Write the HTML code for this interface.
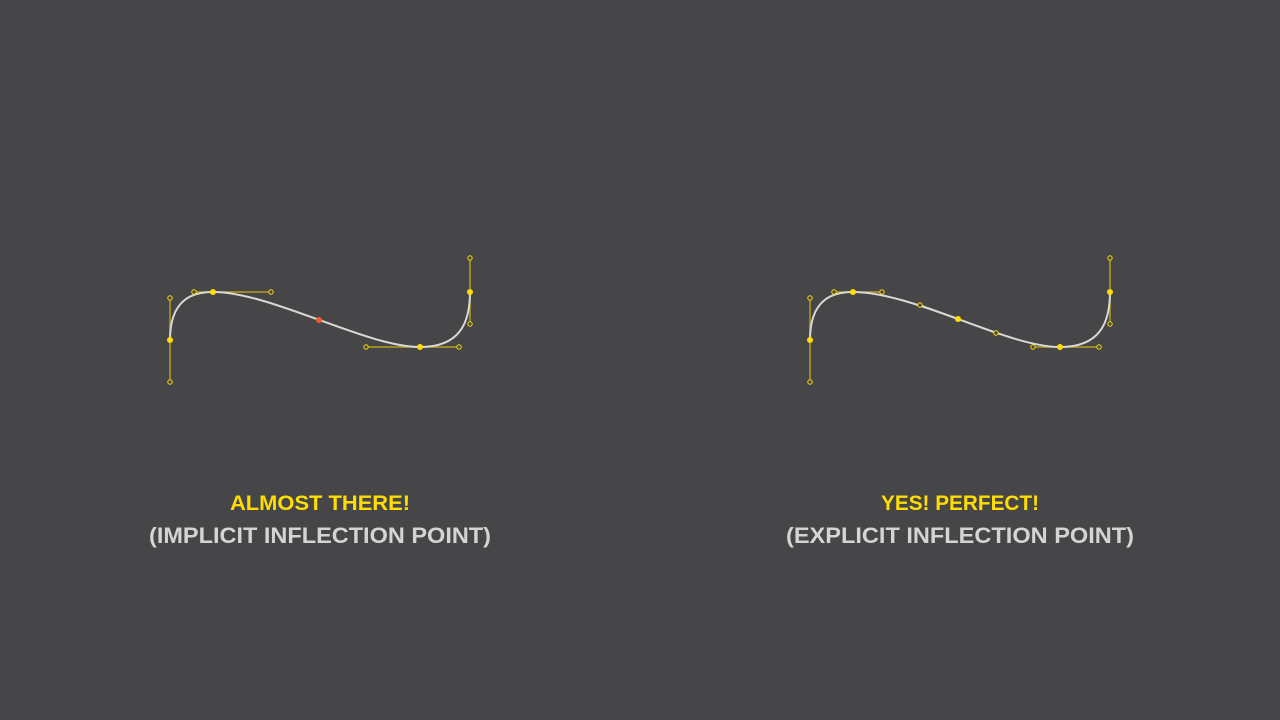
<!DOCTYPE html>
<html><head><meta charset="utf-8"><style>
html,body{margin:0;background:#464648;}
svg{display:block}
text{font-family:"Liberation Sans",sans-serif;font-weight:bold;}
</style></head><body>
<svg width="1280" height="720" viewBox="0 0 1280 720">
<rect width="1280" height="720" fill="#464648"/>
<g id="left">
<g stroke="#b59d1c" stroke-width="1.5" fill="none">
<line x1="170" y1="298" x2="170" y2="382"/>
<line x1="194" y1="292" x2="271" y2="292"/>
<line x1="366" y1="347" x2="459" y2="347"/>
<line x1="470" y1="258" x2="470" y2="324"/>
</g>
<path d="M170,340 C170,298 194,292 213,292 C271,292 366,347 420,347 C459,347 470,324 470,292" stroke="#d8d8d8" stroke-width="2" fill="none"/>
<g fill="#464648" stroke="#ffdd00" stroke-width="1">
<circle cx="170" cy="298" r="2.2"/><circle cx="170" cy="382" r="2.2"/>
<circle cx="194" cy="292" r="2.2"/><circle cx="271" cy="292" r="2.2"/>
<circle cx="366" cy="347" r="2.2"/><circle cx="459" cy="347" r="2.2"/>
<circle cx="470" cy="258" r="2.2"/><circle cx="470" cy="324" r="2.2"/>
</g>
<g fill="#ffdd00">
<circle cx="170" cy="340" r="3"/><circle cx="213" cy="292" r="3"/>
<circle cx="420" cy="347" r="3"/><circle cx="470" cy="292" r="3"/>
</g>
<circle cx="319" cy="320" r="3" fill="#f06020"/>
</g>
<g id="right">
<g stroke="#b59d1c" stroke-width="1.5" fill="none">
<line x1="810" y1="298" x2="810" y2="382"/>
<line x1="834" y1="292" x2="882" y2="292"/>
<line x1="920" y1="305" x2="996" y2="333" stroke="#ffdd00"/>
<line x1="1033" y1="347" x2="1099" y2="347"/>
<line x1="1110" y1="258" x2="1110" y2="324"/>
</g>
<path d="M810,340 C810,298 834,292 853,292 C882,292 920,305 958,319 C996,333 1033,347 1060,347 C1099,347 1110,324 1110,292" stroke="#d8d8d8" stroke-width="2" fill="none"/>
<g fill="#464648" stroke="#ffdd00" stroke-width="1">
<circle cx="810" cy="298" r="2.2"/><circle cx="810" cy="382" r="2.2"/>
<circle cx="834" cy="292" r="2.2"/><circle cx="882" cy="292" r="2.2"/>
<circle cx="920" cy="305" r="2.2"/><circle cx="996" cy="333" r="2.2"/>
<circle cx="1033" cy="347" r="2.2"/><circle cx="1099" cy="347" r="2.2"/>
<circle cx="1110" cy="258" r="2.2"/><circle cx="1110" cy="324" r="2.2"/>
</g>
<g fill="#ffdd00">
<circle cx="810" cy="340" r="3"/><circle cx="853" cy="292" r="3"/>
<circle cx="958" cy="319" r="3"/>
<circle cx="1060" cy="347" r="3"/><circle cx="1110" cy="292" r="3"/>
</g>
</g>
<text x="320" y="510" text-anchor="middle" font-size="21" fill="#ffdd00" textLength="180" lengthAdjust="spacingAndGlyphs">ALMOST THERE!</text>
<text x="320" y="543" text-anchor="middle" font-size="22" fill="#d4d4d4" textLength="342" lengthAdjust="spacingAndGlyphs">(IMPLICIT INFLECTION POINT)</text>
<text x="960" y="510" text-anchor="middle" font-size="21" fill="#ffdd00" textLength="158" lengthAdjust="spacingAndGlyphs">YES! PERFECT!</text>
<text x="960" y="543" text-anchor="middle" font-size="22" fill="#d4d4d4" textLength="348" lengthAdjust="spacingAndGlyphs">(EXPLICIT INFLECTION POINT)</text>
</svg>
</body></html>
